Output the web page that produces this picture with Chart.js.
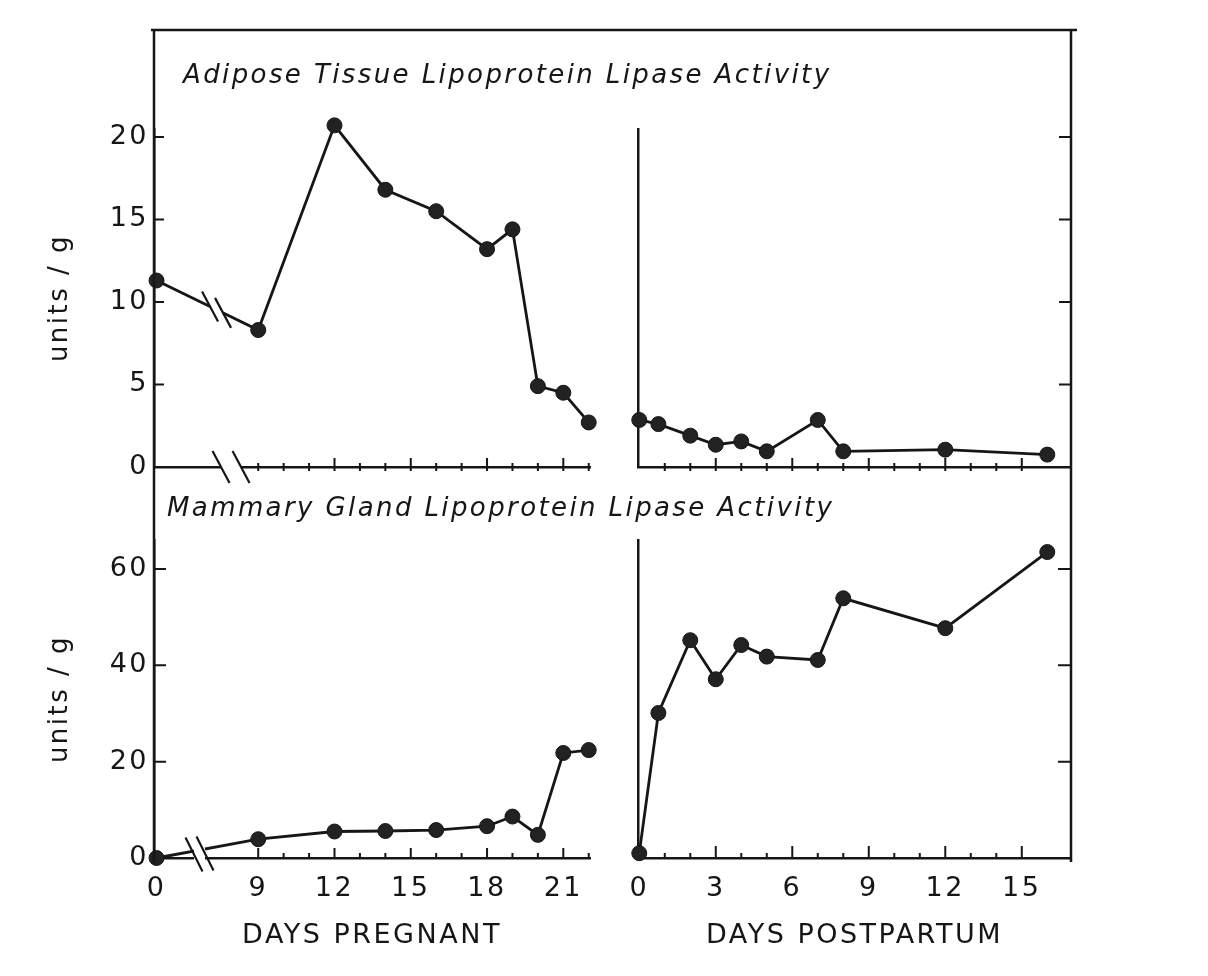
<!DOCTYPE html>
<html>
<head>
<meta charset="utf-8">
<script src="https://cdn.jsdelivr.net/npm/chart.js@4.4.1/dist/chart.umd.min.js"></script>
<style>
  html, body { margin: 0; padding: 0; background: #ffffff; }
  #wrap { position: relative; width: 1208px; height: 976px; overflow: hidden; background: #ffffff; }
  #wrap canvas { position: absolute; left: 0; top: 0; }
</style>
</head>
<body>
<div id="wrap">
  <canvas id="tl" width="1208" height="976"></canvas>
  <canvas id="tr" width="1208" height="976"></canvas>
  <canvas id="bl" width="1208" height="976"></canvas>
  <canvas id="br" width="1208" height="976"></canvas>
</div>
<script>
// ---------------- data ----------------
const pregnantDays       = [0, 9, 12, 14, 16, 18, 19, 20, 21, 22];
const adiposePregnant    = [11.3, 8.3, 20.7, 16.8, 15.5, 13.2, 14.4, 4.9, 4.5, 2.7];
const mammaryPregnant    = [0, 3.9, 5.5, 5.6, 5.8, 6.6, 8.6, 4.8, 21.8, 22.4];

const postpartumDays     = [0, 0.75, 2, 3, 4, 5, 7, 8, 12, 16];
const adiposePostpartum  = [2.85, 2.6, 1.9, 1.35, 1.55, 0.95, 2.85, 0.95, 1.05, 0.75];
const mammaryPostpartum  = [1.0, 30.1, 45.2, 37.1, 44.2, 41.8, 41.1, 53.9, 47.7, 63.5];

const pregnantTickLabels   = ['0', '9', '12', '15', '18', '21'];
const postpartumTickLabels = ['0', '3', '6', '9', '12', '15'];
const pregnantDayTicks     = [9, 10, 11, 12, 13, 14, 15, 16, 17, 18, 19, 20, 21, 22];
const pregnantMajorTicks   = [9, 12, 15, 18, 21];
const postpartumDayTicks   = [1, 2, 3, 4, 5, 6, 7, 8, 9, 10, 11, 12, 13, 14, 15];
const postpartumMajorTicks = [3, 6, 9, 12, 15];
const adiposeTicks = [0, 5, 10, 15, 20];
const mammaryTicks = [0, 20, 40, 60];

const panelTitles = ['Adipose Tissue Lipoprotein Lipase Activity', 'Mammary Gland Lipoprotein Lipase Activity'];
const yAxisTitle  = 'units / g';
const xAxisTitles = ['DAYS PREGNANT', 'DAYS POSTPARTUM'];

// broken axis: days 1-8 of pregnancy are omitted, day 0 sits just left of the break
const BREAK_ZERO_POS = 5;
const axisPos = d => (d === 0 ? BREAK_ZERO_POS : d);

// ---------------- style ----------------
const INK = '#161616';
const FONT = '"DejaVu Sans", "Liberation Sans", sans-serif';
const SPACING = '2.5px';

const decorPlugin = {
  id: 'decor',
  beforeDraw(chart) { chart.ctx.letterSpacing = SPACING; },
  afterDraw(chart, args, o) {
    const ctx = chart.ctx;
    const a = chart.chartArea;
    const xs = chart.scales.x, ys = chart.scales.y;
    ctx.save();
    ctx.strokeStyle = INK;
    ctx.lineCap = 'butt';
    // inward tick marks
    ctx.lineWidth = 2;
    ctx.beginPath();
    if (o.xMarks) {
      const m = o.xMarks;
      m.values.forEach(v => {
        const px = xs.getPixelForValue(v);
        const up = m.major.includes(v) ? m.majorUp : m.minorUp;
        ctx.moveTo(px, a.bottom + m.down);
        ctx.lineTo(px, a.bottom - up);
      });
    }
    if (o.yLeft) o.yLeft.values.forEach(v => {
      const py = ys.getPixelForValue(v);
      ctx.moveTo(a.left, py); ctx.lineTo(a.left + o.yLeft.len, py);
    });
    if (o.yRight) o.yRight.values.forEach(v => {
      const py = ys.getPixelForValue(v);
      ctx.moveTo(a.right, py); ctx.lineTo(a.right - o.yRight.len, py);
    });
    ctx.stroke();

    // axis / line breaks
    (o.breaks || []).forEach(b => {
      const cx = xs.getPixelForValue(b.pos);
      const meta = chart.getDatasetMeta(0);
      const p0 = meta.data[0], p1 = meta.data[1];
      const lineY = x => p0.y + (p1.y - p0.y) * (x - p0.x) / (p1.x - p0.x);
      ctx.globalCompositeOperation = 'destination-out';
      if (b.eraseAxis) ctx.fillRect(cx - b.sep, a.bottom - 3, 2 * b.sep, 6);
      if (b.eraseLine) {
        ctx.lineWidth = 7;
        ctx.beginPath();
        ctx.moveTo(cx - b.sep, lineY(cx - b.sep));
        ctx.lineTo(cx + b.sep, lineY(cx + b.sep));
        ctx.stroke();
      }
      ctx.globalCompositeOperation = 'source-over';
      ctx.lineWidth = 2.2;
      ctx.beginPath();
      [-b.sep, b.sep].forEach(s => {
        const sx = cx + s;
        let sy;
        if (b.at === 'axis') sy = a.bottom;
        else if (b.at === 'line') sy = lineY(sx);
        else sy = (a.bottom + lineY(sx)) / 2;
        ctx.moveTo(sx - b.dx, sy - b.dy);
        ctx.lineTo(sx + b.dx, sy + b.dy);
      });
      ctx.stroke();
    });

    // panel title
    if (o.title) {
      ctx.fillStyle = INK;
      ctx.font = 'italic 26px ' + FONT;
      ctx.letterSpacing = '2.4px';
      ctx.textAlign = 'left';
      ctx.textBaseline = 'alphabetic';
      ctx.fillText(o.title.text, a.left + o.title.dx, a.top + o.title.dy);
    }

    // outer frame (drawn by the last panel)
    if (o.frame) {
      const f = o.frame();
      ctx.lineWidth = 2.5;
      ctx.beginPath();
      ctx.moveTo(f.left - 3, f.top); ctx.lineTo(f.right + 6, f.top);
      ctx.moveTo(f.left, f.top); ctx.lineTo(f.left, f.bottom + 5);
      ctx.moveTo(f.right, f.top); ctx.lineTo(f.right, f.bottom + 4);
      ctx.stroke();
    }
    ctx.restore();
    ctx.letterSpacing = '0px';
  }
};

function makePanel(id, cfg) {
  const points = cfg.days.map((d, i) => ({ x: cfg.xMap(d), y: cfg.values[i] }));
  return new Chart(document.getElementById(id), {
    type: 'scatter',
    data: {
      datasets: [{
        data: points,
        showLine: true,
        borderColor: INK,
        borderWidth: 2.8,
        backgroundColor: INK,
        pointBackgroundColor: '#222222',
        pointBorderColor: INK,
        pointBorderWidth: 1,
        pointRadius: 7.5,
        tension: 0,
        clip: false
      }]
    },
    plugins: [decorPlugin],
    options: {
      responsive: false,
      devicePixelRatio: 1,
      animation: false,
      events: [],
      layout: { padding: cfg.padding },
      plugins: {
        legend: { display: false },
        tooltip: { enabled: false },
        decor: cfg.decor
      },
      scales: {
        x: {
          type: 'linear',
          min: cfg.xMin, max: cfg.xMax,
          afterFit: s => { s.height = cfg.xHeight; },
          afterBuildTicks: s => { s.ticks = cfg.xLabels.map(l => ({ value: cfg.xMap(+l) })); },
          ticks: {
            display: cfg.showXLabels,
            autoSkip: false, maxRotation: 0,
            padding: 15,
            color: INK,
            font: { family: FONT, size: 27 },
            callback: (v, i) => cfg.xLabels[i]
          },
          grid: { display: false, drawTicks: false },
          border: { display: true, color: INK, width: 2.5 },
          title: {
            display: !!cfg.xTitle,
            text: cfg.xTitle || '',
            color: INK,
            font: { family: FONT, size: 27 },
            padding: { top: 0, bottom: 0 }
          }
        },
        y: {
          type: 'linear',
          min: 0, max: cfg.yMax,
          afterFit: s => { s.width = cfg.yWidth; },
          afterBuildTicks: s => { s.ticks = cfg.yTicks.map(v => ({ value: v })); },
          ticks: {
            display: cfg.showYLabels,
            padding: 5,
            color: INK,
            font: { family: FONT, size: 27 }
          },
          grid: { display: false, drawTicks: false },
          border: { display: true, color: INK, width: 2.5 },
          title: {
            display: cfg.showYLabels,
            text: yAxisTitle,
            color: INK,
            font: { family: FONT, size: 26 },
            padding: { top: 45, bottom: 0 }
          }
        }
      }
    }
  });
}

const charts = {};
const PREG_MIN = 4.9, PREG_MAX = 22.05;
const POST_MIN = -0.05, POST_MAX = 16.93;
const ADIPOSE_MAX = 20.48, MAMMARY_MAX = 66;

charts.tl = makePanel('tl', {
  days: pregnantDays, values: adiposePregnant, xMap: axisPos,
  xMin: PREG_MIN, xMax: PREG_MAX, yMax: ADIPOSE_MAX,
  xLabels: pregnantTickLabels, yTicks: adiposeTicks,
  showXLabels: false, showYLabels: true, xHeight: 0, yWidth: 154,
  padding: { left: 0, top: 129, right: 618, bottom: 509 },
  decor: {
    xMarks: { values: pregnantDayTicks, major: pregnantMajorTicks.filter(d => d !== 9), minorUp: 4, majorUp: 9, down: 4 },
    yLeft: { values: adiposeTicks.slice(1), len: 10 },
    breaks: [
      { pos: 7.93, sep: 10, eraseAxis: true, eraseLine: false, at: 'axis', dx: 8.5, dy: 16 },
      { pos: 7.36, sep: 6.5, eraseAxis: false, eraseLine: true, at: 'line', dx: 8, dy: 15 }
    ],
    title: { text: panelTitles[0], dx: 29, dy: -46 }
  }
});

charts.tr = makePanel('tr', {
  days: postpartumDays, values: adiposePostpartum, xMap: d => d,
  xMin: POST_MIN, xMax: POST_MAX, yMax: ADIPOSE_MAX,
  xLabels: postpartumTickLabels, yTicks: adiposeTicks,
  showXLabels: false, showYLabels: false, xHeight: 0, yWidth: 30,
  padding: { left: 608, top: 129, right: 137, bottom: 509 },
  decor: {
    xMarks: { values: postpartumDayTicks, major: postpartumMajorTicks, minorUp: 4, majorUp: 9, down: 4 },
    yRight: { values: adiposeTicks.slice(1), len: 12 }
  }
});

charts.bl = makePanel('bl', {
  days: pregnantDays, values: mammaryPregnant, xMap: axisPos,
  xMin: PREG_MIN, xMax: PREG_MAX, yMax: MAMMARY_MAX,
  xLabels: pregnantTickLabels, yTicks: mammaryTicks, xTitle: xAxisTitles[0],
  showXLabels: true, showYLabels: true, xHeight: 94, yWidth: 154,
  padding: { left: 0, top: 540, right: 618, bottom: 24 },
  decor: {
    xMarks: { values: pregnantDayTicks, major: pregnantMajorTicks, minorUp: 5, majorUp: 10, down: 0 },
    yLeft: { values: mammaryTicks.slice(1), len: 12 },
    breaks: [
      { pos: 6.69, sep: 5.5, eraseAxis: true, eraseLine: true, at: 'mid', dx: 8.5, dy: 17 }
    ],
    title: { text: panelTitles[1], dx: 13, dy: -24 }
  }
});

charts.br = makePanel('br', {
  days: postpartumDays, values: mammaryPostpartum, xMap: d => d,
  xMin: POST_MIN, xMax: POST_MAX, yMax: MAMMARY_MAX,
  xLabels: postpartumTickLabels, yTicks: mammaryTicks, xTitle: xAxisTitles[1],
  showXLabels: true, showYLabels: false, xHeight: 94, yWidth: 30,
  padding: { left: 608, top: 540, right: 137, bottom: 24 },
  decor: {
    xMarks: { values: postpartumDayTicks, major: postpartumMajorTicks, minorUp: 5, majorUp: 12, down: 0 },
    yRight: { values: mammaryTicks.slice(1), len: 13 },
    frame: () => ({
      left: charts.tl.chartArea.left,
      top: 30,
      right: charts.tr.chartArea.right,
      bottom: charts.bl.chartArea.bottom
    })
  }
});
</script>
</body>
</html>
